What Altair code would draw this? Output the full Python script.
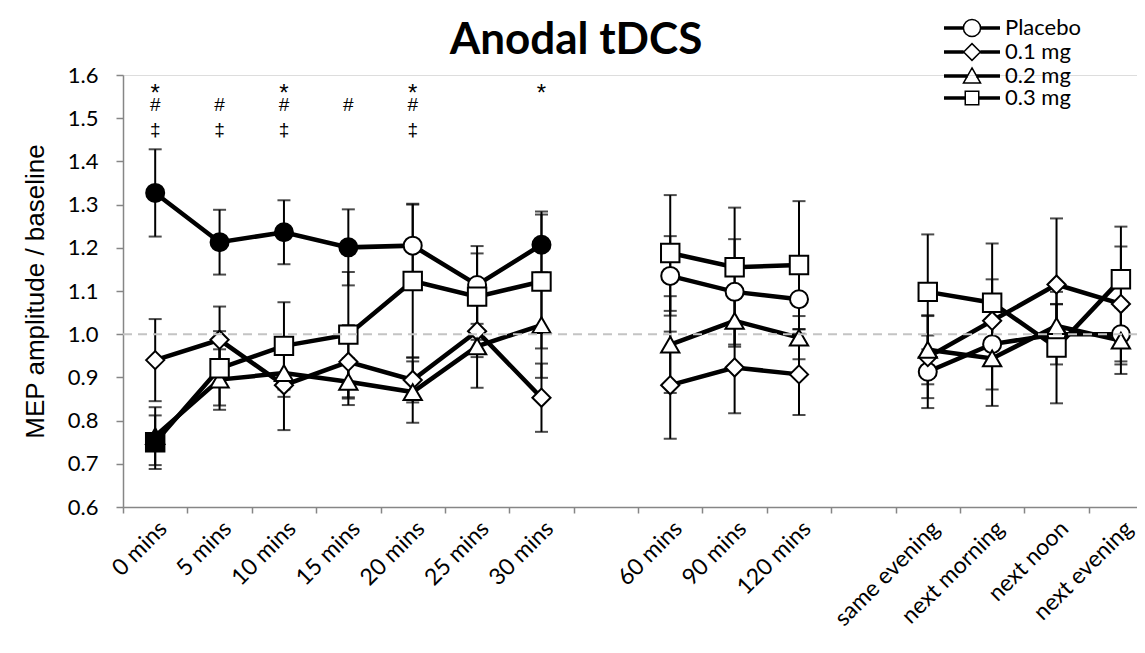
import json
import altair as alt
import pandas as pd

# ---------------- data ----------------
slots = ["0 mins", "5 mins", "10 mins", "15 mins", "20 mins", "25 mins", "30 mins", "",
         "60 mins", "90 mins", "120 mins", "",
         "same evening", "next morning", "next noon", "next evening"]
series_names = ["Placebo", "0.1 mg", "0.2 mg", "0.3 mg"]

placebo_mean = [1.327, 1.213, 1.236, 1.201, 1.205, 1.114, 1.207, 1.135, 1.098, 1.081, 0.913, 0.977, 1.000, 1.000]
placebo_err = [0.101, 0.075, 0.074, 0.088, 0.097, 0.090, 0.077, 0.092, 0.122, 0.070, 0.084, 0.105, 0.070, 0.070]
placebo_filled = [1, 1, 1, 1, 0, 0, 1, 0, 0, 0, 0, 0, 0, 0]

mg01_mean = [0.940, 0.987, 0.882, 0.936, 0.894, 1.007, 0.853, 0.882, 0.923, 0.907, 0.947, 1.031, 1.115, 1.070]
mg01_err = [0.095, 0.077, 0.104, 0.085, 0.052, 0.060, 0.079, 0.124, 0.106, 0.094, 0.095, 0.096, 0.153, 0.133]
mg01_filled = [0] * 14

mg02_mean = [0.764, 0.895, 0.910, 0.890, 0.866, 0.972, 1.021, 0.976, 1.031, 0.992, 0.964, 0.944, 1.019, 0.985]
mg02_err = [0.067, 0.070, 0.055, 0.054, 0.071, 0.096, 0.122, 0.112, 0.060, 0.050, 0.080, 0.110, 0.050, 0.077]
mg02_filled = [1] + [0] * 13

mg03_mean = [0.750, 0.921, 0.973, 0.999, 1.123, 1.087, 1.122, 1.188, 1.155, 1.160, 1.098, 1.073, 0.969, 1.127]
mg03_err = [0.062, 0.086, 0.101, 0.145, 0.177, 0.100, 0.155, 0.134, 0.138, 0.148, 0.133, 0.137, 0.129, 0.122]
mg03_filled = [1] + [0] * 13

star_at = ["0 mins", "10 mins", "20 mins", "30 mins"]
hash_at = ["0 mins", "5 mins", "10 mins", "15 mins", "20 mins"]
dagger_at = ["0 mins", "5 mins", "10 mins", "20 mins"]
star_level = 1.556
hash_level = 1.531
dagger_level = 1.473

baseline_value = [1.0]

# ---------------- tables ----------------
positions = [i for i, s in enumerate(slots) if s]
rows = []
for name, means, errs, filled in [
    ("Placebo", placebo_mean, placebo_err, placebo_filled),
    ("0.1 mg", mg01_mean, mg01_err, mg01_filled),
    ("0.2 mg", mg02_mean, mg02_err, mg02_filled),
    ("0.3 mg", mg03_mean, mg03_err, mg03_filled),
]:
    for k, pos in enumerate(positions):
        seg = slots[:pos].count("")
        rows.append({
            "series": name, "pos": pos, "seg": f"{name}-{seg}",
            "mean": means[k], "lo": means[k] - errs[k], "hi": means[k] + errs[k],
            "fillc": "black" if filled[k] else "white",
        })
df = pd.DataFrame(rows)

star_df = pd.DataFrame({"pos": [slots.index(t) for t in star_at],
                        "level": [star_level] * len(star_at), "txt": ["*"] * len(star_at)})
other_rows = []
for mark, level, where in [("#", hash_level, hash_at), ("\u2021", dagger_level, dagger_at)]:
    for t in where:
        other_rows.append({"pos": slots.index(t), "level": level, "txt": mark})
other_df = pd.DataFrame(other_rows)

base_df = pd.DataFrame({"v": baseline_value})
legend_df = pd.DataFrame({"series": series_names})

# ---------------- scales / axes ----------------
W, H = 1014, 432
x_dom = [-0.5, 15.25]
half = W / (x_dom[1] - x_dom[0]) / 2

xscale = alt.Scale(domain=x_dom, nice=False, zero=False)
yscale = alt.Scale(domain=[0.6, 1.6], nice=False, zero=False)

xaxis = alt.Axis(
    values=list(range(len(slots))),
    labelExpr=json.dumps(slots) + "[datum.value]",
    labelAngle=-45, labelFont="Lato", labelFontSize=23, labelColor="black",
    labelOverlap=False, labelBound=False, labelFlush=False,
    tickOffset=-half, labelOffset=half, tickSize=6, labelPadding=4,
    domainColor="#868686", tickColor="#868686", domainWidth=1.5, tickWidth=1.5,
    grid=False, title=None,
)
yaxis = alt.Axis(
    values=[0.6, 0.7, 0.8, 0.9, 1.0, 1.1, 1.2, 1.3, 1.4, 1.5, 1.6],
    format=".1f", labelFont="Lato", labelFontSize=22, labelColor="black",
    labelOverlap=False, tickSize=7, labelPadding=18,
    domainColor="#868686", tickColor="#868686", domainWidth=1.5, tickWidth=1.5,
    grid=False, title="MEP amplitude / baseline",
    titleFont="Liberation Sans", titleFontSize=26, titleFontWeight="normal",
    titleColor="black", titleX=-88, titleY=H / 2, titleBaseline="middle",
    titleAlign="center", titleAngle=-90,
)

X = alt.X("pos:Q", scale=xscale, axis=xaxis)

base = alt.Chart(df)

errbars = base.mark_rule(color="black", strokeWidth=2).encode(
    x=X, y=alt.Y("lo:Q", scale=yscale, axis=yaxis), y2="hi:Q")
caps_hi = base.mark_tick(orient="horizontal", color="black", thickness=2, size=13).encode(
    x=X, y=alt.Y("hi:Q", scale=yscale, axis=yaxis))
caps_lo = base.mark_tick(orient="horizontal", color="black", thickness=2, size=13).encode(
    x=X, y=alt.Y("lo:Q", scale=yscale, axis=yaxis))

lines = base.mark_line(color="black", strokeWidth=4.5).encode(
    x=X, y=alt.Y("mean:Q", scale=yscale, axis=yaxis), detail="seg:N", order="pos:Q")

points = base.mark_point(filled=True, stroke="black", strokeWidth=2, opacity=1).encode(
    x=X, y=alt.Y("mean:Q", scale=yscale, axis=yaxis),
    shape=alt.Shape("series:N", scale=alt.Scale(domain=series_names,
                    range=["circle", "diamond", "triangle-up", "square"]), legend=None),
    size=alt.Size("series:N", scale=alt.Scale(domain=series_names,
                  range=[324, 340, 330, 180]), legend=None),
    fill=alt.Fill("fillc:N", scale=None),
)

baseline = alt.Chart(base_df).mark_rule(color="#c4c4c4", strokeWidth=2, strokeDash=[9, 6]).encode(
    y=alt.Y("v:Q", scale=yscale, axis=yaxis))

stars = alt.Chart(star_df).mark_text(font="Liberation Sans", fontSize=24, color="black",
                                     baseline="middle").encode(
    x=X, y=alt.Y("level:Q", scale=yscale, axis=yaxis), text="txt:N")
others = alt.Chart(other_df).mark_text(font="Liberation Sans", fontSize=19, color="black",
                                       baseline="middle").encode(
    x=X, y=alt.Y("level:Q", scale=yscale, axis=yaxis), text="txt:N")

# legend symbols: marker with a thick line through it (unit coords, r = sqrt(size)/2)
def through_line(gap):
    return "".join(
        f"M-3.11,{o}L-{gap},{o}M{gap},{o}L3.11,{o}" for o in (-0.12, 0, 0.12)
    )

leg_paths = [
    "M-0.95,0A0.95,0.95 0 1,1 0.95,0A0.95,0.95 0 1,1 -0.95,0Z" + through_line(0.95),
    "M-0.93,0L0,-0.93L0.93,0L0,0.93Z" + through_line(0.93),
    "M0,-0.9L0.95,0.78L-0.95,0.78Z" + through_line(0.46),
    "M-0.75,-0.75L0.75,-0.75L0.75,0.75L-0.75,0.75Z" + through_line(0.75),
]
legend_layer = alt.Chart(legend_df).transform_filter("false").mark_point(
    filled=False, color="black", strokeWidth=1.5, size=324, opacity=1
).encode(
    shape=alt.Shape("series:N", scale=alt.Scale(domain=series_names, range=leg_paths),
                    legend=alt.Legend(
                        title=None, orient="none", legendX=838, legendY=-58,
                        labelFont="Lato", labelFontSize=22, labelColor="black",
                        labelOffset=22, symbolSize=324, symbolStrokeWidth=1.5,
                        symbolStrokeColor="black", symbolFillColor="white",
                        symbolOpacity=1, rowPadding=0, padding=0)),
)

chart = alt.layer(
    errbars, caps_hi, caps_lo, lines, points, baseline, stars, others, legend_layer
).resolve_scale(shape="independent", size="independent").properties(
    width=W, height=H,
    autosize=alt.AutoSizeParams(type="none"),
    padding={"left": 115, "top": 67, "right": 0, "bottom": 130},
    title=alt.TitleParams("Anodal tDCS", font="Lato", fontSize=44, fontWeight="bold",
                          color="black", anchor="middle", frame="group", dx=-54, dy=50),
).configure_view(stroke=None).configure(background="white")

chart.save("out.html", embed_options={"renderer": "svg", "actions": False})
